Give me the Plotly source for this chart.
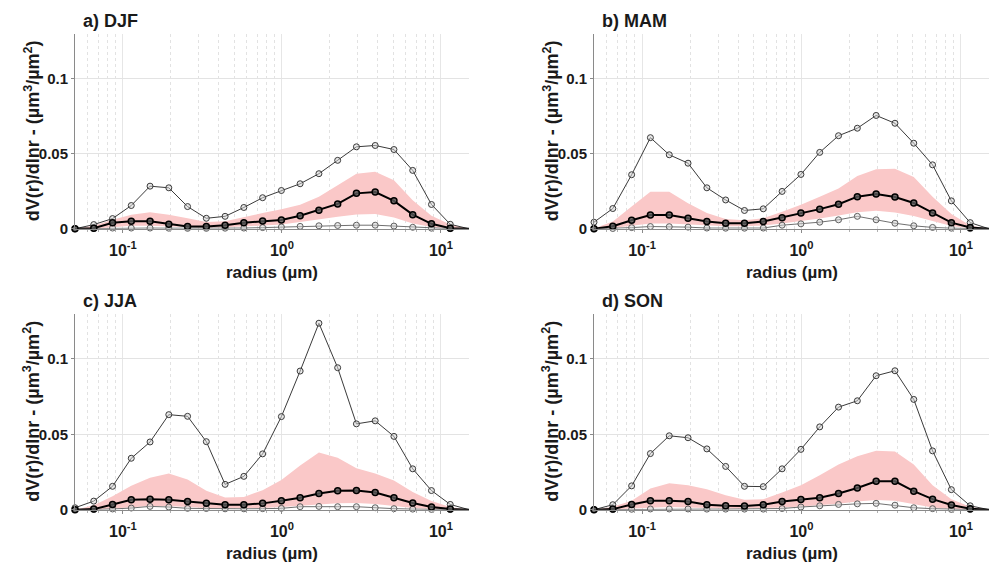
import plotly.graph_objects as go

# AERONET size bins (radius, µm)
radius = [0.050, 0.0656, 0.0861, 0.1129, 0.1482, 0.1944, 0.2551, 0.3347, 0.4392, 0.5762,
          0.7561, 0.9920, 1.3016, 1.7078, 2.2407, 2.9400, 3.8575, 5.0613, 6.6408, 8.7132,
          11.4324, 15.000]

seasons = ["a) DJF", "b) MAM", "c) JJA", "d) SON"]

# DJF
djf_max = [0, 0.0028, 0.0068, 0.0155, 0.0284, 0.0273, 0.0148, 0.0070, 0.0083, 0.0142, 0.0207,
           0.0255, 0.0300, 0.0367, 0.0456, 0.0546, 0.0555, 0.0528, 0.0389, 0.0162, 0.0030, 0]
djf_med = [0, 0.0004, 0.0040, 0.0050, 0.0050, 0.0030, 0.0015, 0.0015, 0.0024, 0.0040, 0.0052,
           0.0059, 0.0087, 0.0124, 0.0166, 0.0236, 0.0245, 0.0186, 0.0094, 0.0033, 0.0004, 0]
djf_min = [0, 0.0002, 0.0005, 0.0005, 0.0005, 0.0004, 0.0003, 0.0003, 0.0004, 0.0005, 0.0008,
           0.0012, 0.0016, 0.0020, 0.0022, 0.0024, 0.0024, 0.0018, 0.0010, 0.0004, 0.0001, 0]
djf_hi = [0, 0.0020, 0.0060, 0.0094, 0.0110, 0.0094, 0.0070, 0.0046, 0.0050, 0.0079, 0.0105,
          0.0130, 0.0160, 0.0214, 0.0288, 0.0367, 0.0380, 0.0323, 0.0190, 0.0087, 0.0028, 0]
djf_lo = [0, 0, 0.0010, 0.0020, 0.0020, 0.0015, 0.0008, 0.0007, 0.0010, 0.0015, 0.0020,
          0.0028, 0.0045, 0.0060, 0.0080, 0.0095, 0.0098, 0.0075, 0.0035, 0.0012, 0.0002, 0]

# MAM
mam_max = [0.0044, 0.0135, 0.0360, 0.0607, 0.0493, 0.0437, 0.0273, 0.0192, 0.0122, 0.0133, 0.0249,
           0.0362, 0.0509, 0.0620, 0.0670, 0.0755, 0.0703, 0.0570, 0.0426, 0.0186, 0.0041, 0]
mam_med = [0.0001, 0.0017, 0.0057, 0.0092, 0.0092, 0.0070, 0.0048, 0.0037, 0.0037, 0.0048, 0.0074,
           0.0105, 0.0131, 0.0164, 0.0214, 0.0231, 0.0212, 0.0172, 0.0105, 0.0041, 0.0009, 0]
mam_min = [0, 0.0002, 0.0008, 0.0015, 0.0014, 0.0011, 0.0005, 0.0004, 0.0004, 0.0005, 0.0024,
           0.0033, 0.0044, 0.0060, 0.0083, 0.0060, 0.0037, 0.0020, 0.0009, 0.0004, 0.0001, 0]
mam_hi = [0.0002, 0.0048, 0.0148, 0.0247, 0.0247, 0.0170, 0.0105, 0.0066, 0.0057, 0.0070, 0.0114,
          0.0160, 0.0214, 0.0269, 0.0352, 0.0397, 0.0400, 0.0345, 0.0214, 0.0098, 0.0022, 0]
mam_lo = [0, 0.0005, 0.0020, 0.0035, 0.0035, 0.0030, 0.0020, 0.0017, 0.0017, 0.0022, 0.0035,
          0.0050, 0.0068, 0.0088, 0.0110, 0.0120, 0.0108, 0.0085, 0.0050, 0.0018, 0.0003, 0]

# JJA
jja_max = [0.0013, 0.0057, 0.0155, 0.0341, 0.0449, 0.0630, 0.0619, 0.0451, 0.0168, 0.0221, 0.0370,
           0.0617, 0.0919, 0.1236, 0.0941, 0.0569, 0.0589, 0.0486, 0.0271, 0.0127, 0.0035, 0]
jja_med = [0, 0.0004, 0.0035, 0.0066, 0.0070, 0.0066, 0.0055, 0.0042, 0.0033, 0.0033, 0.0042,
           0.0059, 0.0079, 0.0107, 0.0125, 0.0127, 0.0114, 0.0079, 0.0044, 0.0018, 0.0004, 0]
jja_min = [0, 0.0002, 0.0005, 0.0011, 0.0022, 0.0018, 0.0009, 0.0008, 0.0006, 0.0006, 0.0007,
           0.0009, 0.0020, 0.0022, 0.0020, 0.0020, 0.0013, 0.0007, 0.0004, 0.0002, 0.0001, 0]
jja_hi = [0, 0.0030, 0.0090, 0.0158, 0.0212, 0.0240, 0.0201, 0.0125, 0.0081, 0.0085, 0.0129,
          0.0197, 0.0293, 0.0380, 0.0344, 0.0274, 0.0240, 0.0193, 0.0118, 0.0057, 0.0018, 0]
jja_lo = [0, 0, 0.0008, 0.0015, 0.0025, 0.0025, 0.0018, 0.0012, 0.0009, 0.0009, 0.0012,
          0.0018, 0.0028, 0.0035, 0.0042, 0.0045, 0.0038, 0.0025, 0.0012, 0.0005, 0.0001, 0]

# SON
son_max = [0, 0.0033, 0.0158, 0.0372, 0.0490, 0.0477, 0.0403, 0.0287, 0.0155, 0.0153, 0.0271,
           0.0400, 0.0549, 0.0680, 0.0722, 0.0888, 0.0921, 0.0731, 0.0390, 0.0133, 0.0026, 0]
son_med = [0, 0.0004, 0.0035, 0.0059, 0.0059, 0.0055, 0.0033, 0.0026, 0.0024, 0.0033, 0.0055,
           0.0068, 0.0079, 0.0107, 0.0144, 0.0188, 0.0188, 0.0123, 0.0070, 0.0031, 0.0007, 0]
son_min = [0, 0.0001, 0.0003, 0.0005, 0.0005, 0.0005, 0.0004, 0.0004, 0.0004, 0.0004, 0.0008,
           0.0018, 0.0026, 0.0035, 0.0039, 0.0042, 0.0030, 0.0013, 0.0007, 0.0002, 0.0001, 0]
son_hi = [0, 0.0020, 0.0059, 0.0140, 0.0175, 0.0162, 0.0136, 0.0096, 0.0066, 0.0070, 0.0114,
          0.0162, 0.0228, 0.0300, 0.0354, 0.0390, 0.0385, 0.0300, 0.0162, 0.0070, 0.0020, 0]
son_lo = [0, 0, 0.0008, 0.0015, 0.0018, 0.0015, 0.0010, 0.0008, 0.0008, 0.0010, 0.0015,
          0.0022, 0.0030, 0.0040, 0.0055, 0.0065, 0.0060, 0.0035, 0.0015, 0.0005, 0.0001, 0]

panels = [
    (djf_max, djf_med, djf_min, djf_hi, djf_lo),
    (mam_max, mam_med, mam_min, mam_hi, mam_lo),
    (jja_max, jja_med, jja_min, jja_hi, jja_lo),
    (son_max, son_med, son_min, son_hi, son_lo),
]

x_ticks = [0.1, 1, 10]
x_ticktext = ["<b>10<sup>-1</sup></b>", "<b>10<sup>0</sup></b>", "<b>10<sup>1</sup></b>"]
y_ticks = [0, 0.05, 0.1]
y_ticktext = ["<b>0</b>", "<b>0.05</b>", "<b>0.1</b>"]
minor_vals = [0.06, 0.07, 0.08, 0.09, 0.2, 0.3, 0.4, 0.5, 0.6, 0.7, 0.8, 0.9,
              2, 3, 4, 5, 6, 7, 8, 9]

PAGE_W, PAGE_H = 997, 567
OFF = 8
W, H = PAGE_W - OFF, PAGE_H - OFF
FONT = "Liberation Sans, Arial, sans-serif"
TXT = "#1a1a1a"


def fx(px):
    return min(max((px - OFF) / W, 0), 1)


def fy(py):
    return min(max(1 - (py - OFF) / H, 0), 1)


# page-pixel layout of each panel: (left, right, top, bottom)
boxes = [(75, 989, 34, 232), (594, 989, 34, 232), (75, 469, 318, 517), (594, 989, 318, 517)]
boxes[0] = (75, 469, 34, 232)

fig = go.Figure()
annotations = []
for i, (data, box) in enumerate(zip(panels, boxes)):
    vmax, vmed, vmin, vhi, vlo = data
    n = i + 1
    xa = "x" if n == 1 else f"x{n}"
    ya = "y" if n == 1 else f"y{n}"
    # band
    fig.add_trace(go.Scatter(x=radius, y=vlo, xaxis=xa, yaxis=ya, mode="lines",
                             line=dict(width=0, color="rgba(0,0,0,0)"), showlegend=False,
                             hoverinfo="skip"))
    fig.add_trace(go.Scatter(x=radius, y=vhi, xaxis=xa, yaxis=ya, mode="lines",
                             line=dict(width=0, color="rgba(0,0,0,0)"), fill="tonexty",
                             fillcolor="#FAC8C8", showlegend=False))
    # max
    fig.add_trace(go.Scatter(x=radius, y=vmax, xaxis=xa, yaxis=ya, mode="lines+markers",
                             line=dict(color="#3a3a3a", width=1),
                             marker=dict(symbol="circle", size=6, color="rgba(210,210,210,0.5)",
                                         line=dict(color="#3a3a3a", width=1)),
                             cliponaxis=False, showlegend=False))
    # min
    fig.add_trace(go.Scatter(x=radius, y=vmin, xaxis=xa, yaxis=ya, mode="lines+markers",
                             line=dict(color="#707070", width=1),
                             marker=dict(symbol="circle", size=6, color="rgba(210,210,210,0.5)",
                                         line=dict(color="#606060", width=1)),
                             cliponaxis=False, showlegend=False))
    # median
    fig.add_trace(go.Scatter(x=radius, y=vmed, xaxis=xa, yaxis=ya, mode="lines+markers",
                             line=dict(color="#000000", width=2),
                             marker=dict(symbol="circle", size=6, color="rgba(90,90,90,0.8)",
                                         line=dict(color="#000000", width=1.5)),
                             cliponaxis=False, showlegend=False))

    l, r, t, b = box
    xdom = [fx(l), fx(r)]
    ydom = [fy(b), fy(t)]
    xkey = "xaxis" if n == 1 else f"xaxis{n}"
    ykey = "yaxis" if n == 1 else f"yaxis{n}"
    fig.layout[xkey] = dict(
        type="log", range=[-1.30103, 1.176091], domain=xdom, anchor=ya,
        tickvals=x_ticks, ticktext=x_ticktext, tickfont=dict(family=FONT, size=16, color=TXT),
        ticklabelstandoff=4,
        showgrid=True, gridcolor="#e6e6e6", gridwidth=1,
        showline=True, linecolor="#8a8a8a", linewidth=1,
        ticks="outside", ticklen=3, tickcolor="#8a8a8a",
        minor=dict(tickvals=minor_vals, showgrid=True, gridcolor="#e2e2e2",
                   griddash="dot", gridwidth=1, ticks="outside", ticklen=2, tickcolor="#b0b0b0"),
        zeroline=False,
    )
    fig.layout[ykey] = dict(
        range=[0, 0.13], domain=ydom, anchor=xa,
        tickvals=y_ticks, ticktext=y_ticktext, tickfont=dict(family=FONT, size=15, color=TXT),
        showgrid=True, gridcolor="#e3e3e3", gridwidth=1,
        showline=True, linecolor="#8a8a8a", linewidth=1,
        ticks="outside", ticklen=3, tickcolor="#8a8a8a", zeroline=False,
    )
    # panel title
    annotations.append(dict(text=f"<b>{seasons[i]}</b>", x=fx(l + 6), y=fy(t - 13),
                            xref="paper", yref="paper", xanchor="left", yanchor="middle",
                            showarrow=False, font=dict(family=FONT, size=18, color=TXT)))
    # x axis title
    annotations.append(dict(text="<b>radius (µm)</b>", x=fx((l + r) / 2), y=fy(b + 44),
                            xref="paper", yref="paper", xanchor="center", yanchor="middle",
                            showarrow=False, font=dict(family=FONT, size=17, color=TXT)))
    # y axis title
    annotations.append(dict(text="<b>dV(r)/dlnr - (µm<sup>3</sup>/µm<sup>2</sup>)</b>",
                            x=fx(l - 43), y=fy((t + b) / 2),
                            xref="paper", yref="paper", xanchor="center", yanchor="middle",
                            textangle=-90, showarrow=False,
                            font=dict(family=FONT, size=18, color=TXT)))

fig.update_layout(
    width=W, height=H, margin=dict(l=0, r=0, t=0, b=0),
    plot_bgcolor="white", paper_bgcolor="white",
    annotations=annotations, showlegend=False,
)

fig.write_html("out.html")
